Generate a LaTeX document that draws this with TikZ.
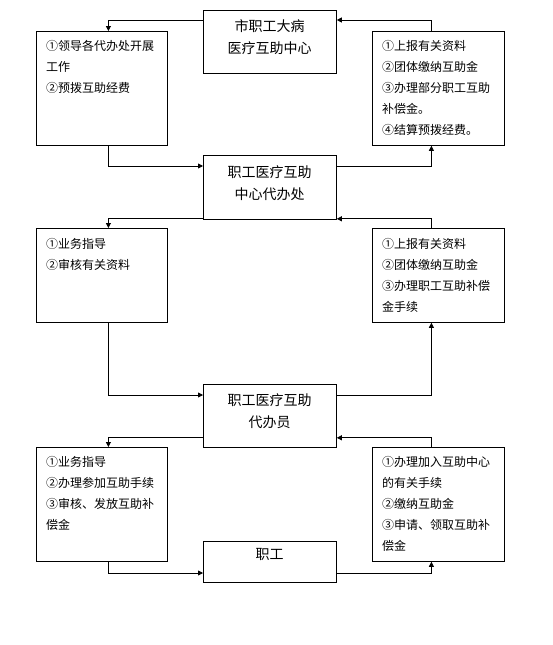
\documentclass[tikz,border=0pt]{standalone}
\usepackage{fontspec}
\setmainfont{Noto Sans CJK SC}
\usetikzlibrary{arrows.meta}
\begin{document}
\begin{tikzpicture}[x=1pt,y=-1pt,
  box/.style={draw=black,line width=0.8pt,rectangle,inner sep=0pt,anchor=north west},
  btxt/.style={anchor=north west,inner sep=0pt,align=left,font=\fontsize{12}{21}\selectfont},
  ctxt/.style={anchor=north,inner sep=0pt,align=center,font=\fontsize{14}{22}\selectfont},
  arr/.style={draw=black,line width=0.8pt,-{Triangle[length=5pt,width=5pt]}}]
\useasboundingbox (0,0) rectangle (552,645);
% boxes
\node[box,minimum width=133pt,minimum height=63pt] (c1) at (203,10) {};
\node[box,minimum width=131pt,minimum height=114pt] (l1) at (36,31) {};
\node[box,minimum width=132pt,minimum height=114pt] (r1) at (372,31) {};
\node[box,minimum width=133pt,minimum height=64pt] (c2) at (203,155) {};
\node[box,minimum width=131pt,minimum height=94pt] (l2) at (36,228) {};
\node[box,minimum width=132pt,minimum height=94pt] (r2) at (372,228) {};
\node[box,minimum width=133pt,minimum height=63pt] (c3) at (203,384) {};
\node[box,minimum width=131pt,minimum height=114pt] (l3) at (36,447) {};
\node[box,minimum width=132pt,minimum height=114pt] (r3) at (372,447) {};
\node[box,minimum width=133pt,minimum height=41pt] (c4) at (203,541) {};
% texts
\node[ctxt] (c1t) at (269.5,19.5) {市职工大病\\医疗互助中心};
\node[ctxt] (c2t) at (269.5,165.5) {职工医疗互助\\中心代办处};
\node[ctxt] (c3t) at (269.5,393.5) {职工医疗互助\\代办员};
\node[ctxt] (c4t) at (269.5,548.5) {职工};
\node[btxt] (l1t) at (46,40.5) {①领导各代办处开展\\工作\\②预拨互助经费};
\node[btxt] (r1t) at (382,40.5) {①上报有关资料\\②团体缴纳互助金\\③办理部分职工互助\\补偿金。\\④结算预拨经费。};
\node[btxt] (l2t) at (46,238.5) {①业务指导\\②审核有关资料};
\node[btxt] (r2t) at (382,238.5) {①上报有关资料\\②团体缴纳互助金\\③办理职工互助补偿\\金手续};
\node[btxt] (l3t) at (46,456.5) {①业务指导\\②办理参加互助手续\\③审核、发放互助补\\偿金};
\node[btxt] (r3t) at (382,456.5) {①办理加入互助中心\\的有关手续\\②缴纳互助金\\③申请、领取互助补\\偿金};
% connectors
\draw[arr] ([yshift=-10pt]c1.north west) -| ([xshift=6.5pt]l1.north);
\draw[arr] ([xshift=-7pt]r1.north) |- ([yshift=-10pt]c1.north east);
\draw[arr] ([xshift=6.5pt]l1.south) |- ([yshift=-11pt]c2.north west);
\draw[arr] ([yshift=-11pt]c2.north east) -| ([xshift=-7pt]r1.south);
\draw[arr] ([yshift=1pt]c2.south west) -| ([xshift=6.5pt]l2.north);
\draw[arr] ([xshift=-7pt]r2.north) |- ([yshift=1pt]c2.south east);
\draw[arr] ([xshift=6.5pt]l2.south) |- ([yshift=-11pt]c3.north west);
\draw[arr] ([yshift=-11pt]c3.north east) -| ([xshift=-7pt]r2.south);
\draw[arr] ([yshift=10pt]c3.south west) -| ([xshift=6.5pt]l3.north);
\draw[arr] ([xshift=-7pt]r3.north) |- ([yshift=10pt]c3.south east);
\draw[arr] ([xshift=6.5pt]l3.south) |- ([yshift=-32pt]c4.north west);
\draw[arr] ([yshift=-32pt]c4.north east) -| ([xshift=-7pt]r3.south);
\end{tikzpicture}
\end{document}
